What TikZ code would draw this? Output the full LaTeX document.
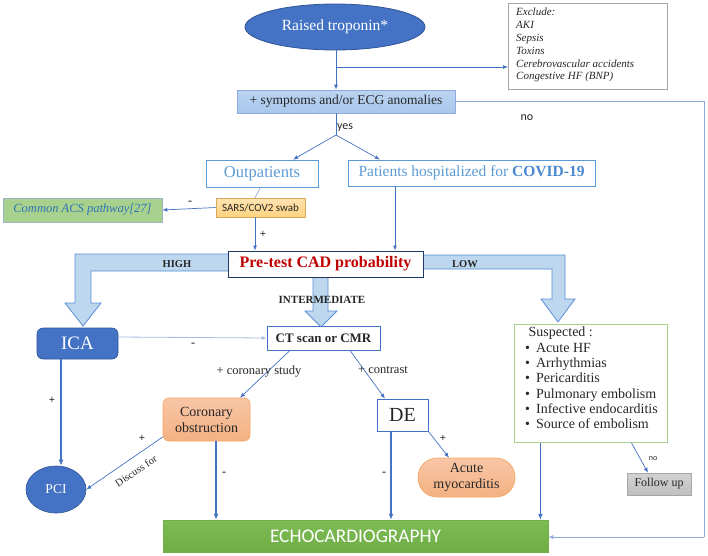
\documentclass[tikz,border=0pt]{standalone}
\usepackage{fontspec}
\setmainfont{Liberation Serif}
\newfontfamily\calib{Carlito}
\usetikzlibrary{arrows.meta,shapes.geometric,shapes.misc}
\definecolor{blueA}{HTML}{4472C4}
\definecolor{blueB}{HTML}{2F5597}
\definecolor{lblue}{HTML}{4472C4}
\definecolor{pale}{HTML}{8FAADC}
\definecolor{symfill}{HTML}{A9C8EC}
\definecolor{outc}{HTML}{5B9BD5}
\definecolor{covc}{HTML}{4A88CF}
\definecolor{swabf}{HTML}{FFD27F}
\definecolor{swabd}{HTML}{D6A85A}
\definecolor{acsf}{HTML}{A9D18E}
\definecolor{acsd}{HTML}{9DB2C9}
\definecolor{acst}{HTML}{2E75B6}
\definecolor{pred}{HTML}{1F3864}
\definecolor{redt}{HTML}{C00000}
\definecolor{salm}{HTML}{F4B183}
\definecolor{salml}{HTML}{F8C6A6}
\definecolor{salmd}{HTML}{F4A460}
\definecolor{grn}{HTML}{A9D18E}
\definecolor{echof}{HTML}{70AD47}
\definecolor{echol}{HTML}{7DBB55}
\definecolor{grayf}{HTML}{BFBFBF}
\definecolor{grayd}{HTML}{A6A6A6}
\definecolor{bigf}{HTML}{BDD7EE}
\definecolor{bigd}{HTML}{5B8FD5}
\definecolor{txt}{HTML}{262626}
\begin{document}
\begin{tikzpicture}[x=1pt,y=-1pt,
  every node/.style={text=txt},
  sz/.style 2 args={minimum width=#1,minimum height=#2,inner sep=0pt},
  ln/.style={draw=lblue,line width=0.7pt},
  arr/.style={ln,-{Latex[length=5pt,width=4pt]}},
  tarr/.style={draw=blueA,line width=1.3pt,-{Latex[length=6pt,width=5pt]}},
  parr/.style={draw=pale,line width=0.8pt,-{Latex[length=5pt,width=4pt]}},
  big/.style={fill=bigf,draw=bigd,line width=0.8pt,line join=miter},
  lab/.style={font=\fontsize{10}{12}\selectfont,inner sep=0pt},
  blab/.style={font=\fontsize{10.5}{12}\selectfont\bfseries,inner sep=0pt}
]
\useasboundingbox (0,0) rectangle (708,555);

% big arrows
\draw[big] (228,254) -- (75,254) -- (75,303) -- (65,303) -- (83,326) -- (101,303) -- (91,303) -- (91,271) -- (228,271);
\draw[big] (313,270) -- (313,311) -- (305,311) -- (321,327) -- (337,311) -- (328,311) -- (328,270);
\draw[big] (423,255) -- (565,255) -- (565,299) -- (575,299) -- (558,322) -- (541,299) -- (552,299) -- (552,269) -- (423,269);

% nodes
\node[ellipse,fill=blueA,draw=blueB,line width=0.8pt,sz={180}{46},text=white,font=\fontsize{15.5}{17}\selectfont] (trop) at (335,27) {Raised troponin*};
\node[draw=grayd,line width=0.6pt,anchor=north west,minimum width=159,minimum height=86,inner sep=0pt] (excl) at (508,3) {};
\node[anchor=north west,align=left,inner sep=0pt,font=\fontsize{11}{12.8}\selectfont\itshape] (exclt) at (516,8) {Exclude:\\AKI\\Sepsis\\Toxins\\Cerebrovascular accidents\\Congestive HF (BNP)};
\node[rectangle,top color=symfill!80!white,bottom color=symfill,draw=pale,line width=0.6pt,sz={218}{23},font=\fontsize{13.5}{15}\selectfont] (sym) at (346,101.5) {+ symptoms and/or ECG anomalies};
\node[draw=outc,line width=0.8pt,sz={112}{27},text=outc,font=\fontsize{16.5}{18}\selectfont] (out) at (262,173.5) {Outpatients};
\node[draw=outc,line width=0.8pt,sz={247}{26},text=outc,font=\fontsize{15.5}{17}\selectfont] (pat) at (471.5,173) {Patients hospitalized for \textcolor{covc}{\bfseries COVID-19}};
\node[top color=swabf!60!white,bottom color=swabf,draw=swabd,line width=0.6pt,sz={89}{19},font=\calib\fontsize{11}{13}\selectfont] (swab) at (260.5,207.5) {SARS/COV2 swab};
\node[fill=acsf,draw=acsd,line width=0.6pt,sz={159}{24},text=acst,font=\fontsize{12.5}{14}\selectfont\itshape] (acs) at (82.5,210) {Common ACS pathway[27]};
\node[fill=white,draw=pred,line width=0.9pt,sz={195}{26},text=redt,font=\fontsize{16}{18}\selectfont\bfseries] (pre) at (325.5,264) {Pre-test CAD probability};
\node[rectangle,fill=blueA,draw=blueB,line width=0.6pt,sz={81}{31},rounded corners=6pt,text=white,font=\fontsize{19}{21}\selectfont] (ica) at (77.5,343.5) {ICA};
\node[draw=blueA,line width=0.8pt,fill=white,sz={113}{24},font=\fontsize{13}{15}\selectfont\bfseries] (ct) at (323.5,338) {CT scan or CMR};
\node[top color=salml,bottom color=salm,draw=salmd,line width=0.6pt,rounded corners=6pt,sz={87}{43},align=center,font=\fontsize{14}{16}\selectfont] (coro) at (206.5,419.5) {Coronary\\obstruction};
\node[draw=blueA,line width=0.8pt,sz={51}{32},font=\fontsize{20}{22}\selectfont] (de) at (402.5,415) {DE};
\node[rectangle,top color=salml,bottom color=salm,draw=salmd,line width=0.6pt,rounded corners=19pt,sz={97}{39},align=center,font=\fontsize{14}{16}\selectfont] (myo) at (466.5,477.5) {Acute\\myocarditis};
\node[draw=grn,line width=0.8pt,anchor=north west,minimum width=153,minimum height=118,inner sep=0pt] (susp) at (514,324) {};
\node[anchor=north west,align=left,inner sep=0pt,font=\fontsize{14}{15.3}\selectfont] (suspt) at (525,327) {\ Suspected :\\
\textbullet\hspace{6pt}Acute HF\\
\textbullet\hspace{6pt}Arrhythmias\\
\textbullet\hspace{6pt}Pericarditis\\
\textbullet\hspace{6pt}Pulmonary embolism\\
\textbullet\hspace{6pt}Infective endocarditis\\
\textbullet\hspace{6pt}Source of embolism};
\node[ellipse,fill=blueA,draw=blueB,line width=0.6pt,sz={60}{47},text=white,font=\fontsize{13.5}{15}\selectfont] (pci) at (56,489.5) {PCI};
\node[top color=grayf!70!white,bottom color=grayf,draw=grayd,line width=0.5pt,sz={64}{22},font=\fontsize{12}{14}\selectfont] (fu) at (659,484) {Follow up};
\node[top color=echol,bottom color=echof,draw=echof,line width=0.5pt,sz={385}{32},text=white,font=\calib\fontsize{19.3}{22}\selectfont] (echo) at (355.5,536) {ECHOCARDIOGRAPHY};

% connectors
\coordinate (j) at (336,135);
\coordinate (jx) at (336,67);
\coordinate (nr) at (704,101.5);
\coordinate (nb) at (704,537);
\draw[arr] (trop.south -| j) -- (sym.north -| j);
\draw[arr] (jx) -- (jx -| excl.west);
\draw[ln] (sym.south -| j) -- (j);
\draw[arr] (j) -- ([xshift=31]out.north);
\draw[arr] (j) -- ([xshift=-91.5]pat.north);
\draw[pale,line width=0.7pt] (sym.east) -- (nr) -- (nb);
\draw[parr] (nb) -- (nb -| echo.east);
\draw[ln,pale] (out.south -| swab.north) -- ([xshift=-5.5]swab.north);
\draw[arr] (swab.west) -- (acs.east);
\draw[arr] ([xshift=-5.5]swab.south) -- ([xshift=-70.5]pre.north);
\draw[arr] ([xshift=-76.5]pat.south) -- ([xshift=69.5]pre.north);
\draw[parr,draw=pale!80!white] ([yshift=6.5]ica.east) -- (ct.west);
\draw[tarr] ([xshift=-16.5]ica.south) -- ([xshift=5]pci.north);
\draw[arr] ([xshift=-33.5]ct.south) -- ([xshift=33.5]coro.north);
\draw[arr] ([xshift=26.5]ct.south) -- ([xshift=-17.5]de.north);
\draw[arr] ([yshift=-17.5]coro.west) -- (pci.east);
\draw[tarr] ([xshift=9.5]coro.south) -- ([xshift=9.5]coro.south |- echo.north);
\draw[tarr] ([xshift=-11.5]de.south) -- ([xshift=-11.5]de.south |- echo.north);
\draw[arr] (de.south east) -- ([xshift=-17.5]myo.north);
\draw[tarr] ([xshift=-50.5]susp.south) -- ([xshift=-50.5]susp.south |- echo.north);
\draw[arr] ([xshift=40.5]susp.south) -- ([xshift=-11]fu.north);

% labels
\node[lab,font=\calib\fontsize{12}{14}\selectfont] (yes) at (345,127.5) {yes};
\node[lab,font=\calib\fontsize{12}{14}\selectfont] (no1) at (527,118) {no};
\node[lab,font=\bfseries\fontsize{12}{14}\selectfont] (m1) at (190,203) {-};
\node[lab,font=\bfseries\fontsize{11}{14}\selectfont] (p1) at (263,234) {+};
\node[blab] (hi) at (177,264) {HIGH};
\node[blab] (lo) at (465,264) {LOW};
\node[blab,font=\fontsize{11}{12}\selectfont\bfseries] (im) at (322,299.5) {INTERMEDIATE};
\node[lab,font=\bfseries\fontsize{12}{14}\selectfont] (m2) at (193,345) {-};
\node[lab,font=\bfseries\fontsize{11}{14}\selectfont] (p2) at (52,400) {+};
\node[lab,font=\fontsize{12.5}{14}\selectfont] (cs) at (259,372) {+ coronary study};
\node[lab,font=\fontsize{12.5}{14}\selectfont] (cn) at (383,370.5) {+ contrast};
\node[lab,font=\bfseries\fontsize{11}{14}\selectfont] (p3) at (142,438) {+};
\node[lab,font=\fontsize{10.5}{12}\selectfont,rotate=33.5] (df) at (136,471) {Discuss for};
\node[lab,font=\bfseries\fontsize{12}{14}\selectfont] (m3) at (224,474) {-};
\node[lab,font=\bfseries\fontsize{12}{14}\selectfont] (m4) at (384,474) {-};
\node[lab,font=\bfseries\fontsize{11}{14}\selectfont] (p4) at (443,438) {+};
\node[lab,font=\calib\fontsize{8}{10}\selectfont] (no2) at (653,459) {no};
\end{tikzpicture}
\end{document}
